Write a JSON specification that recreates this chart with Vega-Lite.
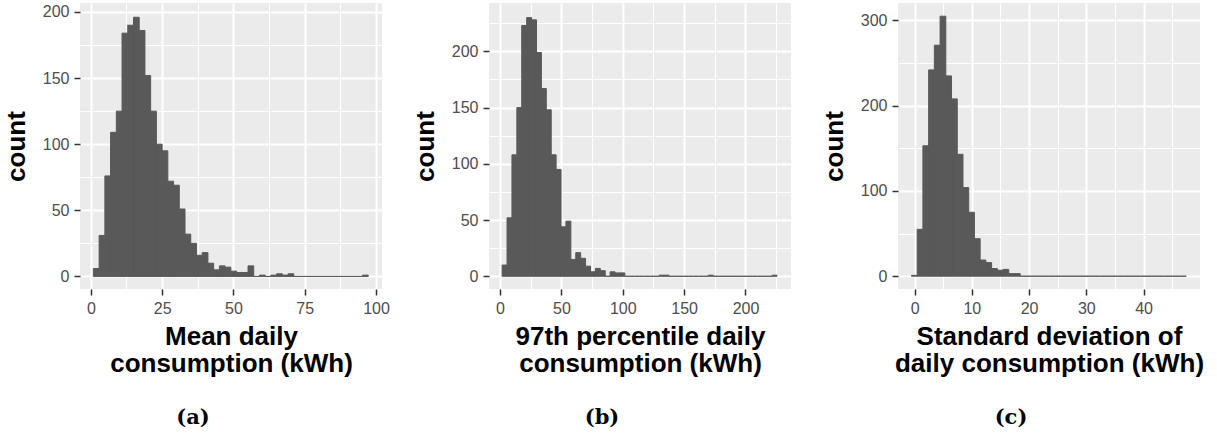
{
  "$schema": "https://vega.github.io/schema/vega-lite/v6.json",
  "background": "white",
  "padding": {"left": 3, "top": 3, "right": 5, "bottom": 0},
  "datasets": {
    "a": [
      {"lo": 0.9, "hi": 2.91, "count": 6}, {"lo": 2.91, "hi": 4.92, "count": 31}, {"lo": 4.92, "hi": 6.92, "count": 76},
      {"lo": 6.92, "hi": 8.93, "count": 109}, {"lo": 8.93, "hi": 10.94, "count": 125}, {"lo": 10.94, "hi": 12.95, "count": 184},
      {"lo": 12.95, "hi": 14.96, "count": 190}, {"lo": 14.96, "hi": 16.96, "count": 196}, {"lo": 16.96, "hi": 18.97, "count": 186},
      {"lo": 18.97, "hi": 20.98, "count": 152}, {"lo": 20.98, "hi": 22.99, "count": 125}, {"lo": 22.99, "hi": 25.0, "count": 100},
      {"lo": 25.0, "hi": 27.0, "count": 95}, {"lo": 27.0, "hi": 29.01, "count": 72}, {"lo": 29.01, "hi": 31.02, "count": 69},
      {"lo": 31.02, "hi": 33.03, "count": 51}, {"lo": 33.03, "hi": 35.04, "count": 32}, {"lo": 35.04, "hi": 37.04, "count": 25},
      {"lo": 37.04, "hi": 39.05, "count": 16}, {"lo": 39.05, "hi": 41.06, "count": 18}, {"lo": 41.06, "hi": 43.07, "count": 10},
      {"lo": 43.07, "hi": 45.08, "count": 5}, {"lo": 45.08, "hi": 47.08, "count": 8}, {"lo": 47.08, "hi": 49.09, "count": 7},
      {"lo": 49.09, "hi": 51.1, "count": 4}, {"lo": 51.1, "hi": 53.11, "count": 3}, {"lo": 53.11, "hi": 55.12, "count": 3},
      {"lo": 55.12, "hi": 57.12, "count": 8}, {"lo": 57.12, "hi": 59.13, "count": 0}, {"lo": 59.13, "hi": 61.14, "count": 1},
      {"lo": 61.14, "hi": 63.15, "count": 0}, {"lo": 63.15, "hi": 65.16, "count": 1}, {"lo": 65.16, "hi": 67.16, "count": 2},
      {"lo": 67.16, "hi": 69.17, "count": 1}, {"lo": 69.17, "hi": 71.18, "count": 2}, {"lo": 71.18, "hi": 73.19, "count": 0},
      {"lo": 73.19, "hi": 75.2, "count": 0}, {"lo": 75.2, "hi": 77.2, "count": 0}, {"lo": 77.2, "hi": 79.21, "count": 0},
      {"lo": 79.21, "hi": 81.22, "count": 0}, {"lo": 81.22, "hi": 83.23, "count": 0}, {"lo": 83.23, "hi": 85.24, "count": 0},
      {"lo": 85.24, "hi": 87.24, "count": 0}, {"lo": 87.24, "hi": 89.25, "count": 0}, {"lo": 89.25, "hi": 91.26, "count": 0},
      {"lo": 91.26, "hi": 93.27, "count": 0}, {"lo": 93.27, "hi": 95.28, "count": 0}, {"lo": 95.28, "hi": 97.28, "count": 1}
    ],
    "b": [
      {"lo": 1.7, "hi": 5.7, "count": 10}, {"lo": 5.7, "hi": 9.7, "count": 52}, {"lo": 9.7, "hi": 13.7, "count": 108},
      {"lo": 13.7, "hi": 17.7, "count": 150}, {"lo": 17.7, "hi": 21.7, "count": 223}, {"lo": 21.7, "hi": 25.7, "count": 230},
      {"lo": 25.7, "hi": 29.7, "count": 228}, {"lo": 29.7, "hi": 33.7, "count": 199}, {"lo": 33.7, "hi": 37.7, "count": 167},
      {"lo": 37.7, "hi": 41.7, "count": 148}, {"lo": 41.7, "hi": 45.7, "count": 108}, {"lo": 45.7, "hi": 49.7, "count": 95},
      {"lo": 49.7, "hi": 53.7, "count": 44}, {"lo": 53.7, "hi": 57.7, "count": 49}, {"lo": 57.7, "hi": 61.7, "count": 15},
      {"lo": 61.7, "hi": 65.7, "count": 21}, {"lo": 65.7, "hi": 69.7, "count": 16}, {"lo": 69.7, "hi": 73.7, "count": 9},
      {"lo": 73.7, "hi": 77.7, "count": 4}, {"lo": 77.7, "hi": 81.7, "count": 7}, {"lo": 81.7, "hi": 85.7, "count": 5},
      {"lo": 85.7, "hi": 89.7, "count": 0}, {"lo": 89.7, "hi": 93.7, "count": 4}, {"lo": 93.7, "hi": 97.7, "count": 3},
      {"lo": 97.7, "hi": 101.7, "count": 3}, {"lo": 101.7, "hi": 105.7, "count": 0}, {"lo": 105.7, "hi": 109.7, "count": 0},
      {"lo": 109.7, "hi": 113.7, "count": 0}, {"lo": 113.7, "hi": 117.7, "count": 0}, {"lo": 117.7, "hi": 121.7, "count": 0},
      {"lo": 121.7, "hi": 125.7, "count": 0}, {"lo": 125.7, "hi": 129.7, "count": 0}, {"lo": 129.7, "hi": 133.7, "count": 1},
      {"lo": 133.7, "hi": 137.7, "count": 1}, {"lo": 137.7, "hi": 141.7, "count": 0}, {"lo": 141.7, "hi": 145.7, "count": 0},
      {"lo": 145.7, "hi": 149.7, "count": 0}, {"lo": 149.7, "hi": 153.7, "count": 0}, {"lo": 153.7, "hi": 157.7, "count": 0},
      {"lo": 157.7, "hi": 161.7, "count": 0}, {"lo": 161.7, "hi": 165.7, "count": 0}, {"lo": 165.7, "hi": 169.7, "count": 0},
      {"lo": 169.7, "hi": 173.7, "count": 1}, {"lo": 173.7, "hi": 177.7, "count": 0}, {"lo": 177.7, "hi": 181.7, "count": 0},
      {"lo": 181.7, "hi": 185.7, "count": 0}, {"lo": 185.7, "hi": 189.7, "count": 0}, {"lo": 189.7, "hi": 193.7, "count": 0},
      {"lo": 193.7, "hi": 197.7, "count": 0}, {"lo": 197.7, "hi": 201.7, "count": 0}, {"lo": 201.7, "hi": 205.7, "count": 0},
      {"lo": 205.7, "hi": 209.7, "count": 0}, {"lo": 209.7, "hi": 213.7, "count": 0}, {"lo": 213.7, "hi": 217.7, "count": 0},
      {"lo": 217.7, "hi": 221.7, "count": 0}, {"lo": 221.7, "hi": 225.7, "count": 1}
    ],
    "c": [
      {"lo": -0.55, "hi": 0.45, "count": 1}, {"lo": 0.45, "hi": 1.45, "count": 55}, {"lo": 1.45, "hi": 2.45, "count": 153},
      {"lo": 2.45, "hi": 3.45, "count": 242}, {"lo": 3.45, "hi": 4.45, "count": 271}, {"lo": 4.45, "hi": 5.45, "count": 305},
      {"lo": 5.45, "hi": 6.45, "count": 235}, {"lo": 6.45, "hi": 7.45, "count": 208}, {"lo": 7.45, "hi": 8.45, "count": 143},
      {"lo": 8.45, "hi": 9.45, "count": 104}, {"lo": 9.45, "hi": 10.45, "count": 75}, {"lo": 10.45, "hi": 11.45, "count": 44},
      {"lo": 11.45, "hi": 12.45, "count": 19}, {"lo": 12.45, "hi": 13.45, "count": 16}, {"lo": 13.45, "hi": 14.45, "count": 9},
      {"lo": 14.45, "hi": 15.45, "count": 7}, {"lo": 15.45, "hi": 16.45, "count": 8}, {"lo": 16.45, "hi": 17.45, "count": 3},
      {"lo": 17.45, "hi": 18.45, "count": 3}, {"lo": 18.45, "hi": 19.45, "count": 0}, {"lo": 19.45, "hi": 20.45, "count": 0},
      {"lo": 20.45, "hi": 21.45, "count": 0}, {"lo": 21.45, "hi": 22.45, "count": 0}, {"lo": 22.45, "hi": 23.45, "count": 0},
      {"lo": 23.45, "hi": 24.45, "count": 0}, {"lo": 24.45, "hi": 25.45, "count": 0}, {"lo": 25.45, "hi": 26.45, "count": 0},
      {"lo": 26.45, "hi": 27.45, "count": 0}, {"lo": 27.45, "hi": 28.45, "count": 0}, {"lo": 28.45, "hi": 29.45, "count": 0},
      {"lo": 29.45, "hi": 30.45, "count": 0}, {"lo": 30.45, "hi": 31.45, "count": 0}, {"lo": 31.45, "hi": 32.45, "count": 0},
      {"lo": 32.45, "hi": 33.45, "count": 0}, {"lo": 33.45, "hi": 34.45, "count": 0}, {"lo": 34.45, "hi": 35.45, "count": 0},
      {"lo": 35.45, "hi": 36.45, "count": 0}, {"lo": 36.45, "hi": 37.45, "count": 0}, {"lo": 37.45, "hi": 38.45, "count": 0},
      {"lo": 38.45, "hi": 39.45, "count": 0}, {"lo": 39.45, "hi": 40.45, "count": 0}, {"lo": 40.45, "hi": 41.45, "count": 0},
      {"lo": 41.45, "hi": 42.45, "count": 0}, {"lo": 42.45, "hi": 43.45, "count": 0}, {"lo": 43.45, "hi": 44.45, "count": 0},
      {"lo": 44.45, "hi": 45.45, "count": 0}, {"lo": 45.45, "hi": 46.45, "count": 0}, {"lo": 46.45, "hi": 47.45, "count": 0}
    ]
  },
  "bounds": "flush",
  "spacing": 107,
  "hconcat": [
    {
      "width": 302, "height": 286,
      "data": {"name": "a"},
      "title": {"text": "(a)", "dx": -38},
      "mark": {"type": "bar", "color": "#595959", "stroke": "#595959", "strokeWidth": 1},
      "encoding": {
        "x": {"field": "lo", "type": "quantitative", "title": ["Mean daily", "consumption (kWh)"],
          "scale": {"domain": [-3.8, 102.1], "nice": false, "zero": false},
          "axis": {"values": [0, 12.5, 25, 37.5, 50, 62.5, 75, 87.5, 100],
            "labelExpr": "datum.value % 25 == 0 ? format(datum.value, 'd') : ''",
            "gridWidth": {"condition": {"test": "datum.value % 25 == 0", "value": 2}, "value": 1},
            "tickOpacity": {"condition": {"test": "datum.value % 25 == 0", "value": 1}, "value": 0}}},
        "x2": {"field": "hi"},
        "y": {"field": "count", "type": "quantitative", "title": "count",
          "scale": {"domain": [-9.5, 206.8], "nice": false, "zero": false},
          "axis": {"values": [0, 25, 50, 75, 100, 125, 150, 175, 200],
            "labelExpr": "datum.value % 50 == 0 ? format(datum.value, 'd') : ''",
            "gridWidth": {"condition": {"test": "datum.value % 50 == 0", "value": 2}, "value": 1},
            "tickOpacity": {"condition": {"test": "datum.value % 50 == 0", "value": 1}, "value": 0}}},
        "y2": {"datum": 0}
      }
    },
    {
      "width": 302, "height": 286,
      "data": {"name": "b"},
      "title": {"text": "(b)", "dx": -38},
      "mark": {"type": "bar", "color": "#595959", "stroke": "#595959", "strokeWidth": 1},
      "encoding": {
        "x": {"field": "lo", "type": "quantitative", "title": ["97th percentile daily", "consumption (kWh)"],
          "scale": {"domain": [-9.0, 237.1], "nice": false, "zero": false},
          "axis": {"values": [0, 25, 50, 75, 100, 125, 150, 175, 200, 225],
            "labelExpr": "datum.value % 50 == 0 ? format(datum.value, 'd') : ''",
            "gridWidth": {"condition": {"test": "datum.value % 50 == 0", "value": 2}, "value": 1},
            "tickOpacity": {"condition": {"test": "datum.value % 50 == 0", "value": 1}, "value": 0}}},
        "x2": {"field": "hi"},
        "y": {"field": "count", "type": "quantitative", "title": "count",
          "scale": {"domain": [-11.3, 243], "nice": false, "zero": false},
          "axis": {"values": [0, 25, 50, 75, 100, 125, 150, 175, 200, 225],
            "labelExpr": "datum.value % 50 == 0 ? format(datum.value, 'd') : ''",
            "gridWidth": {"condition": {"test": "datum.value % 50 == 0", "value": 2}, "value": 1},
            "tickOpacity": {"condition": {"test": "datum.value % 50 == 0", "value": 1}, "value": 0}}},
        "y2": {"datum": 0}
      }
    },
    {
      "width": 302, "height": 286,
      "data": {"name": "c"},
      "title": {"text": "(c)", "dx": -38},
      "mark": {"type": "bar", "color": "#595959", "stroke": "#595959", "strokeWidth": 1},
      "encoding": {
        "x": {"field": "lo", "type": "quantitative", "title": ["Standard deviation of", "daily consumption (kWh)"],
          "scale": {"domain": [-2.9, 49.85], "nice": false, "zero": false},
          "axis": {"values": [0, 5, 10, 15, 20, 25, 30, 35, 40, 45],
            "labelExpr": "datum.value % 10 == 0 ? format(datum.value, 'd') : ''",
            "gridWidth": {"condition": {"test": "datum.value % 10 == 0", "value": 2}, "value": 1},
            "tickOpacity": {"condition": {"test": "datum.value % 10 == 0", "value": 1}, "value": 0}}},
        "x2": {"field": "hi"},
        "y": {"field": "count", "type": "quantitative", "title": "count",
          "scale": {"domain": [-15, 320.5], "nice": false, "zero": false},
          "axis": {"values": [0, 50, 100, 150, 200, 250, 300],
            "labelExpr": "datum.value % 100 == 0 ? format(datum.value, 'd') : ''",
            "gridWidth": {"condition": {"test": "datum.value % 100 == 0", "value": 2}, "value": 1},
            "tickOpacity": {"condition": {"test": "datum.value % 100 == 0", "value": 1}, "value": 0}}},
        "y2": {"datum": 0}
      }
    }
  ],
  "config": {
    "view": {"fill": "#EBEBEB", "stroke": null},
    "font": "Liberation Sans",
    "axis": {
      "domain": false,
      "gridColor": "#FFFFFF",
      "gridOpacity": 1,
      "tickColor": "#333333",
      "tickSize": 6,
      "tickWidth": 1.5,
      "labelColor": "#4D4D4D",
      "labelFont": "Liberation Sans",
      "labelFontSize": 16,
      "labelPadding": 5,
      "labelFlush": false,
      "labelOverlap": false,
      "titleFont": "Liberation Sans",
      "titleFontSize": 26,
      "titleFontWeight": "bold",
      "titleColor": "#000000",
      "titleLineHeight": 27.7
    },
    "axisY": {"titlePadding": 13},
    "axisX": {"titlePadding": 7},
    "title": {"orient": "bottom", "anchor": "middle", "frame": "group", "font": "DejaVu Serif", "fontSize": 21, "fontWeight": "bold", "color": "#000000", "offset": 30}
  }
}
